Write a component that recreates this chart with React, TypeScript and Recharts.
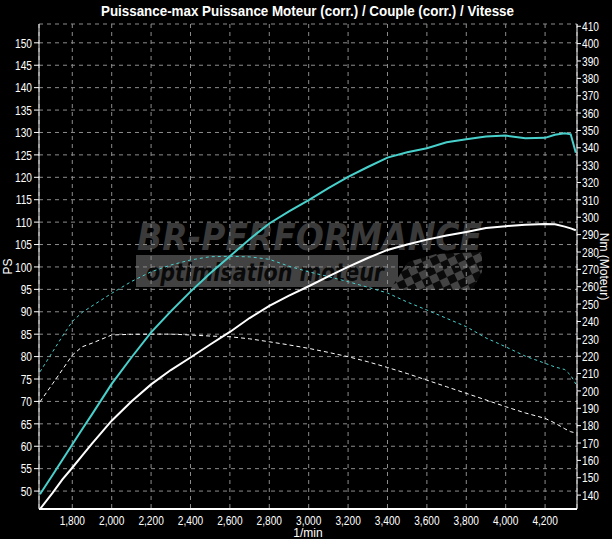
import React from 'react';
import { LineChart, Line, XAxis, YAxis, CartesianGrid } from 'recharts';

// dyno run: engine speed (1/min), power in PS, torque in Nm
const rpm = [1636, 1700, 1750, 1800, 1850, 1900, 2000, 2100, 2200, 2300, 2400, 2500, 2600, 2700, 2800, 2900, 3000, 3100, 3200, 3300, 3400, 3500, 3600, 3700, 3800, 3900, 4000, 4100, 4200, 4250, 4300, 4330, 4356];
const powerTuned = [49.3, 53.6, 57.0, 60.4, 63.8, 67.1, 73.9, 79.8, 85.4, 90.1, 94.5, 98.6, 102.4, 106.2, 109.7, 112.4, 114.9, 117.6, 120.1, 122.3, 124.4, 125.6, 126.5, 127.8, 128.5, 129.1, 129.3, 128.7, 128.8, 129.5, 129.8, 129.6, 125.5];
const powerStock = [46.0, 49.6, 52.6, 55.2, 57.9, 60.6, 65.7, 70.0, 73.8, 77.0, 79.8, 82.7, 85.5, 88.6, 91.3, 93.6, 95.7, 97.9, 100.0, 102.0, 103.8, 105.0, 106.1, 107.0, 107.8, 108.7, 109.1, 109.4, 109.6, 109.5, 109.0, 108.6, 108.2];
const torqueTuned = [211, 222.5, 231.5, 240, 245.2, 248.9, 256.2, 263, 268.6, 272.5, 275.4, 277.3, 277.5, 277.2, 275.8, 271.8, 268.6, 265.8, 262.9, 259.7, 256.4, 251.2, 246.6, 241.8, 237.0, 230.5, 225.4, 220.0, 215.9, 213.8, 212.3, 209, 204];
const torqueStock = [193.7, 204.1, 212.3, 220.6, 225.4, 227.5, 232.2, 232.6, 232.7, 232.7, 232.2, 231.6, 231.2, 230, 228.3, 226.5, 224.5, 222.2, 219.7, 216.8, 213.5, 210, 206.2, 202.4, 198.6, 194.8, 190.9, 187.3, 184.2, 181.5, 178.2, 176.5, 175.8];

const rpmTicks = [1800, 2000, 2200, 2400, 2600, 2800, 3000, 3200, 3400, 3600, 3800, 4000, 4200];
const psTicks = [50, 55, 60, 65, 70, 75, 80, 85, 90, 95, 100, 105, 110, 115, 120, 125, 130, 135, 140, 145, 150];
const nmTicks = [140, 150, 160, 170, 180, 190, 200, 210, 220, 230, 240, 250, 260, 270, 280, 290, 300, 310, 320, 330, 340, 350, 360, 370, 380, 390, 400, 410];
// small ticks between the labelled ones
const psMinorTicks = Array.from({ length: 108 }, (_, i) => 47 + i);
const nmMinorTicks = Array.from({ length: 139 }, (_, i) => 134 + i * 2);

const rpmDomain = [1631, 4362];
const psDomain = [46, 154.2];
const nmDomain = [132, 411.3];

const rows = rpm.map((r, i) => ({
  rpm: r,
  pTuned: powerTuned[i],
  pStock: powerStock[i],
  tTuned: torqueTuned[i],
  tStock: torqueStock[i],
}));

const FONT = "'Liberation Sans', Arial, sans-serif";
const CYAN = '#48d1cc';

// tick label squeezed horizontally, the dyno software uses a narrow face
function NarrowTick(props: any) {
  const { x, y, payload, textAnchor, vertical, fmt } = props;
  const label = fmt ? fmt(payload.value) : String(payload.value);
  return (
    <g transform={`translate(${x},${y})`}>
      <text transform="scale(0.78,1)" textAnchor={textAnchor} dy={vertical ? '0.36em' : '0.75em'}
        fill="#fff" fontSize={13} fontFamily={FONT}>
        {label}
      </text>
    </g>
  );
}

// rotated axis title, centred on the axis height
function AxisTitle(props: any) {
  const { viewBox, value, side } = props;
  if (!viewBox) return null;
  const cx = side === 'left' ? viewBox.x + 8 : viewBox.x + viewBox.width - 8;
  const cy = viewBox.y + viewBox.height / 2;
  const angle = side === 'left' ? -90 : 90;
  return (
    <text x={cx} y={cy} transform={`rotate(${angle},${cx},${cy})`} textAnchor="middle" dominantBaseline="central"
      fill="#fff" fontSize={12} fontFamily={FONT}>
      {value}
    </text>
  );
}

function Backdrop() {
  return (
    <svg width={612} height={539} style={{ position: 'absolute', left: 0, top: 0 }}>
      <defs>
        <pattern id="checker" width="16" height="16" patternUnits="userSpaceOnUse" patternTransform="rotate(-25)">
          <rect width="16" height="16" fill="#0a0a0a" />
          <rect width="8" height="8" fill="#434343" />
          <rect x="8" y="8" width="8" height="8" fill="#434343" />
        </pattern>
      </defs>
      <text x={101} y={16} fill="#fff" fontSize={14} fontWeight="bold" fontFamily={FONT}
        textLength={413} lengthAdjust="spacingAndGlyphs">
        Puissance-max Puissance Moteur (corr.) / Couple (corr.) / Vitesse
      </text>
      {/* watermark */}
      <text x={137} y={250} fill="#3a3a3a" fontSize={38} fontWeight="bold" fontStyle="italic"
        fontFamily="'DejaVu Sans', sans-serif" textLength={345} lengthAdjust="spacingAndGlyphs">
        BR-PERFORMANCE
      </text>
      <rect x={136} y={255} width={262} height={32} fill="#424242" />
      <polygon points="390,290 408,262 436,254 482,252 482,272 472,290" fill="url(#checker)" />
      <text x={146} y={281} fill="#0a0a0a" fontSize={24} fontWeight="bold" fontStyle="italic"
        fontFamily="'DejaVu Sans', sans-serif" textLength={238} lengthAdjust="spacingAndGlyphs">
        optimisation moteur
      </text>
    </svg>
  );
}

export default function App() {
  const fmtRpm = (v: number) => v.toLocaleString('en-US');
  return (
    <div style={{ position: 'absolute', left: 0, top: 0, width: 612, height: 539, background: '#000', overflow: 'hidden' }}>
      <Backdrop />
      <div style={{ position: 'absolute', left: 0, top: 0 }}>
        <LineChart width={612} height={539} data={rows} margin={{ top: 24, right: 0, bottom: 0, left: 0 }}>
          <CartesianGrid xAxisId="rpm" yAxisId="ps" stroke="#8c8c8c" strokeDasharray="4 4" />

          <XAxis xAxisId="rpm" dataKey="rpm" type="number" domain={rpmDomain} allowDataOverflow ticks={rpmTicks}
            interval={0} height={30} tickLine={false} tickSize={4}
            axisLine={{ stroke: '#fff', strokeWidth: 2 }} tick={<NarrowTick fmt={fmtRpm} />}
            label={{ value: '1/min', position: 'insideBottom', offset: 2, fill: '#fff', fontSize: 12, fontFamily: FONT }} />
          <XAxis xAxisId="top" orientation="top" dataKey="rpm" type="number" domain={rpmDomain} allowDataOverflow
            height={0} tick={false} tickLine={false} axisLine={{ stroke: '#fff' }} />

          {/* minor axes first so they sit on the plot edge */}
          <YAxis yAxisId="psMinor" type="number" domain={psDomain} allowDataOverflow ticks={psMinorTicks} interval={0}
            width={0} axisLine={false} tickSize={3} tickLine={{ stroke: '#fff' }} tickFormatter={() => ''} />
          <YAxis yAxisId="ps" type="number" domain={psDomain} allowDataOverflow ticks={psTicks} interval={0} width={39}
            axisLine={{ stroke: '#fff' }} tickLine={{ stroke: '#fff' }} tickSize={5} tickMargin={2}
            tick={<NarrowTick vertical />}
            label={(p: any) => <AxisTitle viewBox={p.viewBox} value="PS" side="left" />} />
          <YAxis yAxisId="nmMinor" orientation="right" type="number" domain={nmDomain} allowDataOverflow ticks={nmMinorTicks}
            interval={0} width={0} axisLine={false} tickSize={2} tickLine={{ stroke: '#fff' }} tickFormatter={() => ''} />
          <YAxis yAxisId="nm" orientation="right" type="number" domain={nmDomain} allowDataOverflow ticks={nmTicks}
            interval={0} width={35} axisLine={{ stroke: '#fff' }} tickLine={{ stroke: '#fff' }} tickSize={4} tickMargin={1}
            tick={<NarrowTick vertical />}
            label={(p: any) => <AxisTitle viewBox={p.viewBox} value="Nm (Moteur)" side="right" />} />

          <Line xAxisId="rpm" yAxisId="nm" dataKey="tTuned" type="linear" stroke={CYAN} strokeWidth={1}
            strokeDasharray="3 3" dot={false} isAnimationActive={false} />
          <Line xAxisId="rpm" yAxisId="nm" dataKey="tStock" type="linear" stroke="#fff" strokeWidth={1}
            strokeDasharray="4 3" dot={false} isAnimationActive={false} />
          <Line xAxisId="rpm" yAxisId="ps" dataKey="pTuned" type="linear" stroke={CYAN} strokeWidth={2}
            dot={false} isAnimationActive={false} />
          <Line xAxisId="rpm" yAxisId="ps" dataKey="pStock" type="linear" stroke="#fff" strokeWidth={2}
            dot={false} isAnimationActive={false} />
        </LineChart>
      </div>
    </div>
  );
}
